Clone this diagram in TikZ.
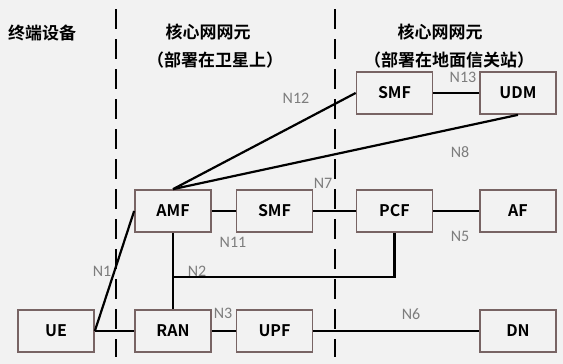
\documentclass[tikz,border=0pt]{standalone}
\usepackage{fontspec}
\setmainfont{Carlito}
\newfontfamily\cjkb[BoldFont={Noto Sans CJK SC Bold}]{Noto Sans CJK SC}
\definecolor{bgc}{RGB}{242,242,242}
\definecolor{boxc}{RGB}{120,100,100}
\definecolor{lblc}{RGB}{125,125,125}
\begin{document}
\begin{tikzpicture}[x=1pt,y=-1pt,
  nf/.style={draw=boxc,line width=1.7pt,fill=bgc,minimum width=76pt,minimum height=42pt,inner sep=0pt,font=\cjkb\bfseries\fontsize{16}{19}\selectfont},
  lbl/.style={text=lblc,font=\fontsize{16}{18}\selectfont,inner sep=0pt},
  hdr/.style={font=\cjkb\bfseries\fontsize{17}{20}\selectfont,inner sep=0pt},
  cn/.style={line width=2.2pt,black},
  sep/.style={line width=2.6pt,dash pattern=on 20pt off 10pt}]
\fill[bgc] (0,0) rectangle (563,364);
\useasboundingbox (0,0) rectangle (563,364);
% separators
\draw[sep] (116,9) -- (116,357);
\draw[sep] (335,9) -- (335,357);
% headers
\node[hdr,anchor=west] (h0) at (8,33) {终端设备};
\node[hdr] (h1) at (208,32) {核心网网元};
\node[hdr] (h2) at (215,60) {（部署在卫星上）};
\node[hdr] (h3) at (440,32) {核心网网元};
\node[hdr] (h4) at (449,60) {（部署在地面信关站）};
% nodes
\node[nf] (ue) at (56,331) {UE};
\node[nf] (ran) at (173,331) {RAN};
\node[nf] (upf) at (274.5,331) {UPF};
\node[nf] (dn) at (518,331) {DN};
\node[nf] (amf) at (173,211) {AMF};
\node[nf] (smf) at (274.5,211) {SMF};
\node[nf] (pcf) at (394.5,211) {PCF};
\node[nf] (af) at (518,211) {AF};
\node[nf] (smft) at (394.5,93) {SMF};
\node[nf] (udm) at (518,93) {UDM};
\coordinate (j) at (173,277);
% connectors
\draw[cn] (ue.east) -- (ran.west);
\draw[cn] (ue.east) -- (amf.west);
\draw[cn] (ran) -- (upf);
\draw[cn] (upf) -- (dn);
\draw[cn] (amf) -- (smf);
\draw[cn] (smf) -- (pcf);
\draw[cn] (pcf) -- (af);
\draw[cn] (smft) -- (udm);
\draw[cn] (amf.north) -- (smft.west);
\draw[cn] (amf.north) -- (udm.south);
\draw[cn] (amf.south) -- (ran.north);
\draw[cn] (pcf.south) |- (j);
% labels
\node[lbl] (l12) at (296,98) {N12};
\node[lbl] (l13) at (463,77) {N13};
\node[lbl] (l8) at (460,152) {N8};
\node[lbl] (l7) at (323,183) {N7};
\node[lbl] (l11) at (233,242) {N11};
\node[lbl] (l5) at (460,236) {N5};
\node[lbl] (l1) at (102,271) {N1};
\node[lbl] (l2) at (197,271) {N2};
\node[lbl] (l3) at (223,313) {N3};
\node[lbl] (l6) at (411,314) {N6};
\end{tikzpicture}
\end{document}
